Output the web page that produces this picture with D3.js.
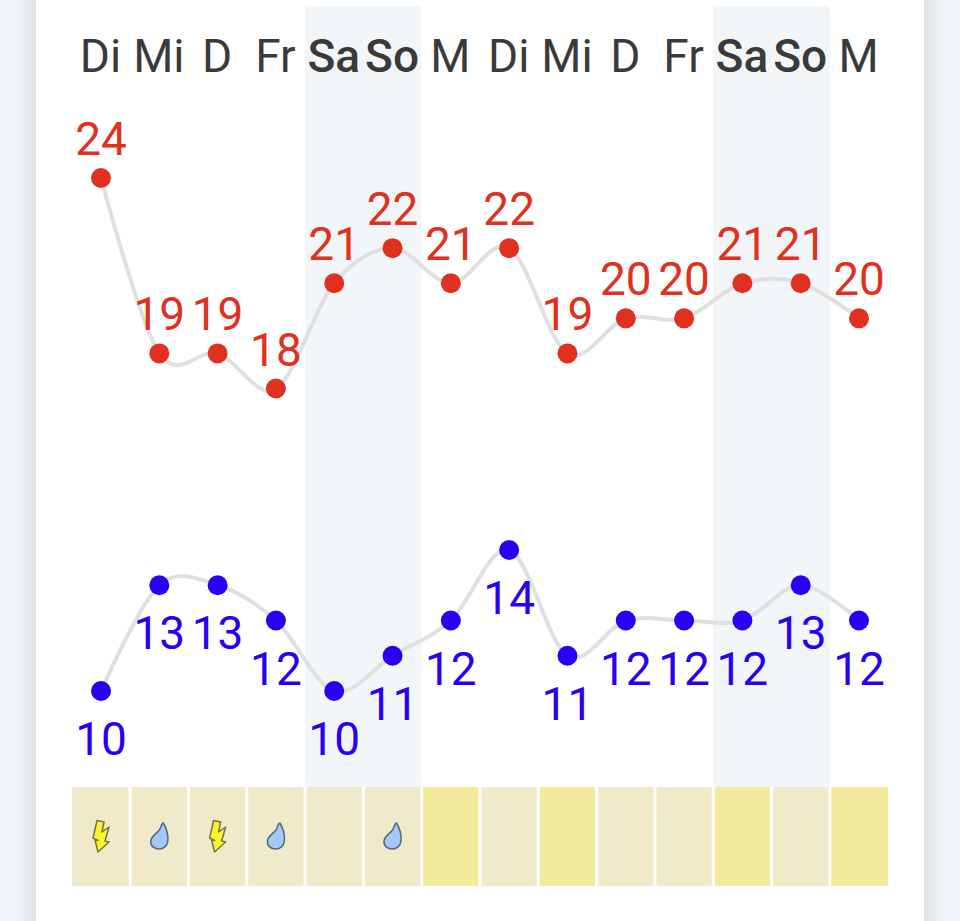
<!DOCTYPE html>
<html><head><meta charset="utf-8">
<script src="https://cdn.jsdelivr.net/npm/d3@7/dist/d3.min.js"></script>
<style>html,body{margin:0;padding:0;background:#fff}svg{display:block}text{font-family:Roboto,sans-serif}</style>
</head><body><svg id="c" width="960" height="921"></svg>
<script>
const days=["Di","Mi","D","Fr","Sa","So","M","Di","Mi","D","Fr","Sa","So","M"];
const weekend=[4,5,11,12];
const highs=[24,19,19,18,21,22,21,22,19,20,20,21,21,20];
const lows=[10,13,13,12,10,11,12,14,11,12,12,12,13,12];
const cellTone=[0,0,0,0,0,0,1,0,1,0,0,1,0,1];
const icons=["bolt","drop","bolt","drop","","drop","","","","","","","",""];
const idx=d3.range(days.length);
const svg=d3.select("#c");
const defs=svg.append("defs");
const gl=defs.append("linearGradient").attr("id","sl");
gl.append("stop").attr("offset","0").attr("stop-color","#f2f6fa");
gl.append("stop").attr("offset","0.5").attr("stop-color","#eff3f6");
gl.append("stop").attr("offset","1").attr("stop-color","#dfe2e5");
const gr=defs.append("linearGradient").attr("id","sr");
gr.append("stop").attr("offset","0").attr("stop-color","#dfe2e5");
gr.append("stop").attr("offset","0.5").attr("stop-color","#eff3f6");
gr.append("stop").attr("offset","1").attr("stop-color","#f2f6fa");
svg.append("rect").attr("width",36).attr("height",921).attr("fill","url(#sl)");
svg.append("rect").attr("x",924).attr("width",36).attr("height",921).attr("fill","url(#sr)");

const x=d3.scalePoint().domain(idx).range([101,859]);
const step=x.step();
const last=idx.length-1;
const cellLeft=i=>i===0?72:x(i)-step/2+1.5;
const cellRight=i=>i===last?888:x(i)+step/2-1.5;
const yH=d3.scaleLinear().domain([18,24]).range([388.5,178]);
const yL=d3.scaleLinear().domain([10,14]).range([691,550]);

[[4,5],[11,12]].forEach(([a,b])=>{
  svg.append("rect").attr("x",x(a)-step/2).attr("y",6)
    .attr("width",x(b)-x(a)+step).attr("height",781).attr("fill","#f3f6f9");
});
svg.append("g").selectAll("text").data(idx).join("text")
  .attr("x",i=>x(i)-0.5).attr("y",72).attr("text-anchor","middle")
  .attr("font-size",46).attr("fill","#3a3a3a")
  .attr("font-weight",i=>weekend.includes(i)?500:400).text(i=>days[i]);
const line=y=>d3.line().x((d,i)=>x(i)).y(d=>y(d)).curve(d3.curveCatmullRom.alpha(0));
svg.append("path").attr("d",line(yH)(highs)).attr("fill","none").attr("stroke","#e0e0e0").attr("stroke-width",4);
svg.append("path").attr("d",line(yL)(lows)).attr("fill","none").attr("stroke","#e0e0e0").attr("stroke-width",4);
svg.append("g").selectAll("circle").data(highs).join("circle")
  .attr("cx",(d,i)=>x(i)).attr("cy",d=>yH(d)).attr("r",10).attr("fill","#df3020");
svg.append("g").selectAll("circle").data(lows).join("circle")
  .attr("cx",(d,i)=>x(i)).attr("cy",d=>yL(d)).attr("r",10).attr("fill","#2a00f5");
svg.append("g").selectAll("text").data(highs).join("text")
  .attr("x",(d,i)=>x(i)).attr("y",d=>yH(d)-23).attr("text-anchor","middle")
  .attr("font-size",46).attr("fill","#df3020").text(d=>d);
svg.append("g").selectAll("text").data(lows).join("text")
  .attr("x",(d,i)=>x(i)).attr("y",d=>yL(d)+64).attr("text-anchor","middle")
  .attr("font-size",46).attr("fill","#2a00f5").text(d=>d);
svg.append("g").selectAll("rect").data(idx).join("rect")
  .attr("x",cellLeft).attr("y",787).attr("width",i=>cellRight(i)-cellLeft(i)).attr("height",99)
  .attr("fill",i=>cellTone[i]?"#f4ea9c":"#f0eaca");
const boltPath="M-4,-15.5 L3,-14 L1,-4 L8,-9 L4,5 L8,6 L-3,16 L-6,4 L-3,4.5 L-8,2 Z";
const dropPath="M4,-13 C7,-8 9,-2 8.5,5 C8,10 4,13 0,13 C-5,13 -9,10 -8.5,5 C-8,0 -3,-2 0,-6 C2,-9 2,-13 4,-13 Z";
svg.append("g").selectAll("path").data(idx.filter(i=>icons[i])).join("path")
  .attr("transform",i=>`translate(${x(i)},836)`)
  .attr("d",i=>icons[i]==="bolt"?boltPath:dropPath)
  .attr("fill",i=>icons[i]==="bolt"?"#f8f52c":"#a4c8f8")
  .attr("stroke",i=>icons[i]==="bolt"?"#77734a":"#56687c").attr("stroke-width",1.5).attr("stroke-linejoin","round");
</script></body></html>
